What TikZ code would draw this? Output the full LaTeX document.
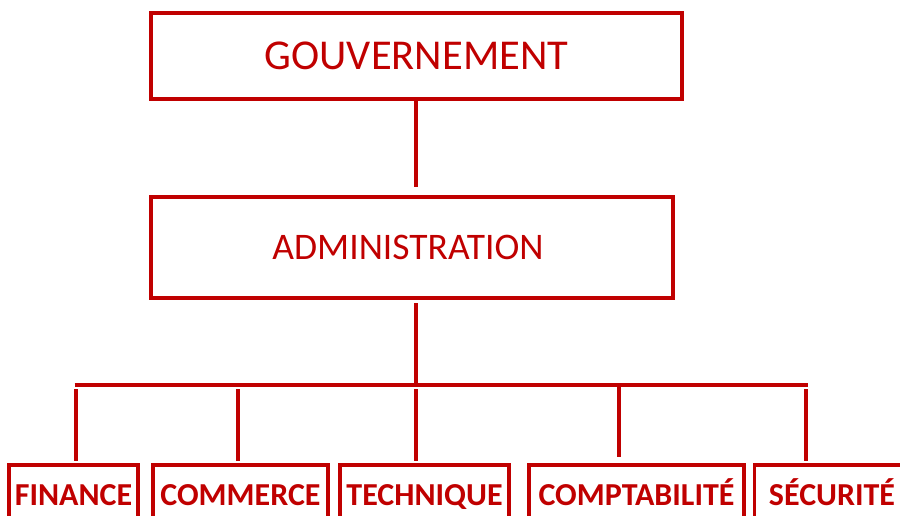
\documentclass[tikz,border=0pt]{standalone}
\usepackage{fontspec}
\setmainfont{Carlito}
\definecolor{dred}{RGB}{192,0,0}
\begin{document}
\begin{tikzpicture}[x=1pt,y=-1pt,
  box/.style={draw=dred, line width=3.5pt, text=dred, inner sep=0pt, rectangle},
  unit/.style={box, minimum height=60, text height=20.5pt, text depth=0pt,
    font=\fontsize{32}{32}\selectfont\bfseries},
  link/.style={draw=dred, line width=3.5pt}]
\useasboundingbox (0,0) rectangle (900,515);
\clip (0,0) rectangle (900,515);
\node[box, minimum width=531, minimum height=86, font=\fontsize{42.5}{42.5}\selectfont] (gov) at (416.5,56) {GOUVERNEMENT};
\node[box, minimum width=522, minimum height=101, font=\fontsize{37.5}{37.5}\selectfont] (adm) at (412,247.5) {ADMINISTRATION\kern8pt};
\node[unit, minimum width=129] (fin) at (73.5,495) {FINANCE};
\node[unit, minimum width=175] (com) at (240.5,495) {COMMERCE};
\node[unit, minimum width=169] (tec) at (424.5,495) {TECHNIQUE};
\node[unit, minimum width=215] (cpt) at (636.5,495) {COMPTABILITÉ};
\node[unit, minimum width=155] (sec) at (832,495) {SÉCURITÉ};
\coordinate (g1) at (416,100);
\coordinate (a0) at (416,187);
\coordinate (a1) at (416,303);
\coordinate (bj) at (416,385);
\coordinate (bl) at (74.5,385);
\coordinate (br) at (807.5,385);
\coordinate (d1) at (76,389);  \coordinate (e1) at (76,461);
\coordinate (d2) at (238,389); \coordinate (e2) at (238,461);
\coordinate (d3) at (416,389); \coordinate (e3) at (416,461);
\coordinate (d4) at (619,385); \coordinate (e4) at (619,457);
\coordinate (d5) at (806,389); \coordinate (e5) at (806,461);
\draw[link] (g1) -- (a0);
\draw[link] (a1) -- (bj);
\draw[link] (bl) -- (br);
\draw[link] (d1) -- (e1);
\draw[link] (d2) -- (e2);
\draw[link] (d3) -- (e3);
\draw[link] (d4) -- (e4);
\draw[link] (d5) -- (e5);
\end{tikzpicture}
\end{document}
